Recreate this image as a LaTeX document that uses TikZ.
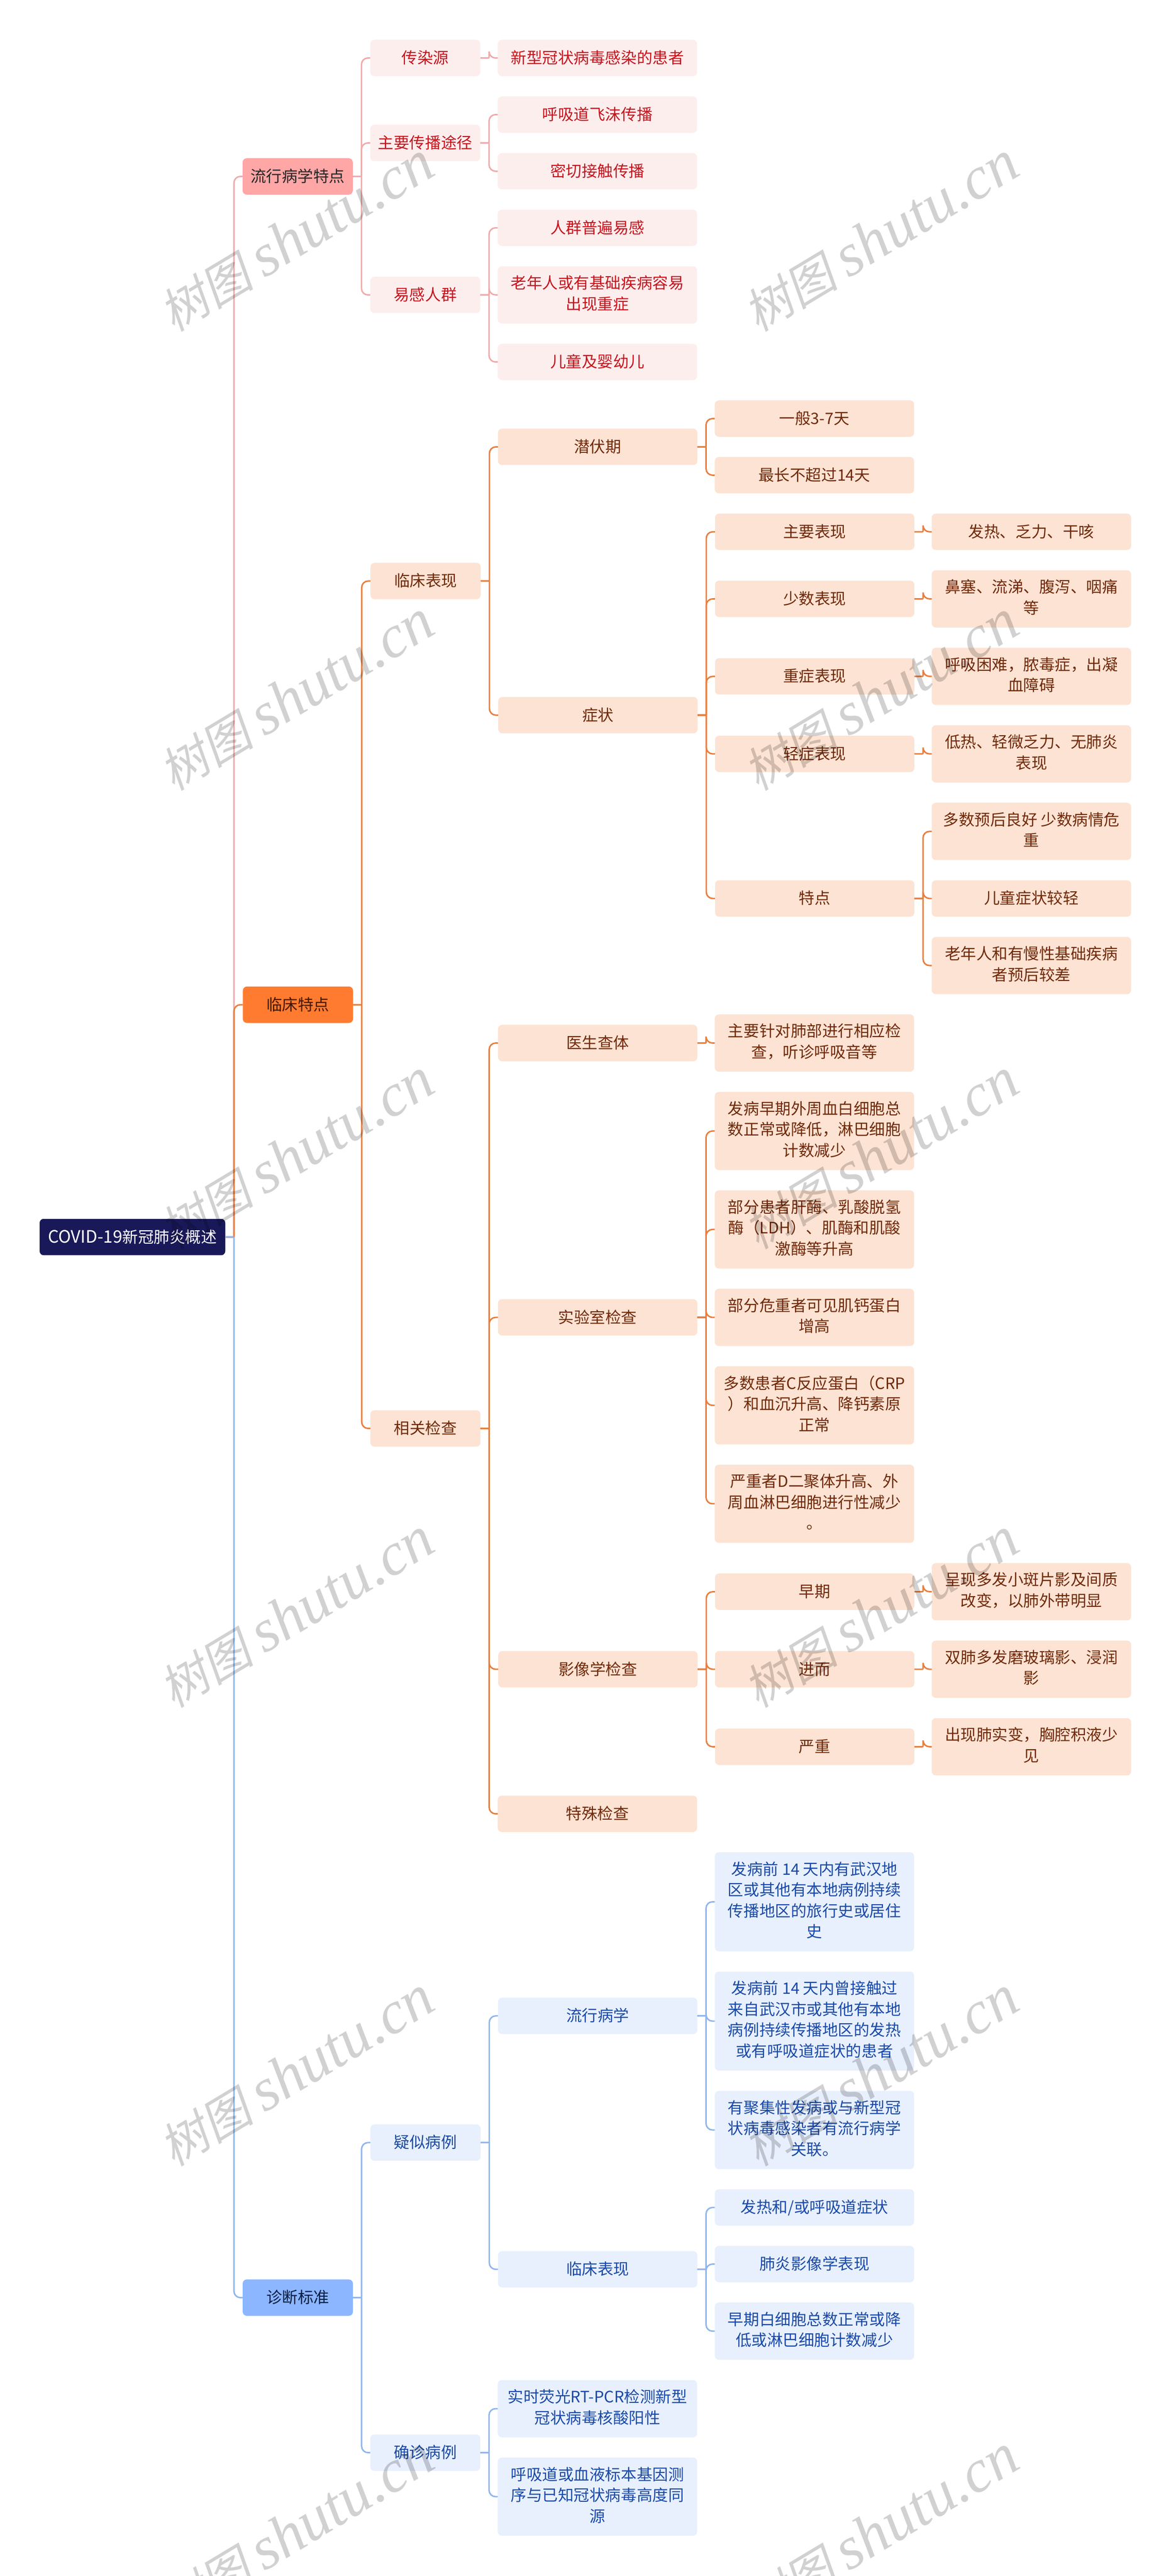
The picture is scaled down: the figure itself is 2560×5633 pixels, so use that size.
\documentclass[tikz,border=0pt]{standalone}
\usepackage{fontspec}
\setmainfont{Noto Sans CJK SC}
\newfontfamily\wmcjk[FakeSlant=0.2]{Noto Sans CJK SC}
\newfontfamily\wmlat{Liberation Serif}
\usetikzlibrary{positioning,calc}
\newcommand{\linestrut}{\rule[-4.8pt]{0pt}{22pt}}
\definecolor{redfill}{HTML}{FDEEEE}
\definecolor{redtext}{HTML}{C8141C}
\definecolor{rededge}{HTML}{F0AAAA}
\definecolor{redmain}{HTML}{FFA6A6}
\definecolor{orgfill}{HTML}{FDE3D3}
\definecolor{orgtext}{HTML}{70290A}
\definecolor{orgedge}{HTML}{E87E3E}
\definecolor{orgmain}{HTML}{FF7B30}
\definecolor{blufill}{HTML}{E8F0FD}
\definecolor{blutext}{HTML}{1A4AA8}
\definecolor{bluedge}{HTML}{90B5EE}
\definecolor{blumain}{HTML}{8CB6FF}
\definecolor{rootfill}{HTML}{19195A}

\begin{document}
\begin{tikzpicture}[x=0.5pt, y=-0.5pt, node distance=22.1pt and 19pt, every node/.style={font=\fontsize{17.2pt}{22.85pt}\selectfont}]

\tikzstyle{box} = [rectangle, rounded corners=4.5pt, inner sep=0pt, outer sep=0pt, align=center, minimum height=39.8pt, execute at begin node=\linestrut, execute at end node=\linestrut]
\tikzstyle{short} = [minimum width=120.5pt]
\tikzstyle{wide} = [minimum width=218pt]
\tikzstyle{twol} = [minimum height=62.65pt]
\tikzstyle{threel} = [minimum height=85.5pt]
\tikzstyle{fourl} = [minimum height=108.35pt]
\tikzstyle{redbox} = [box, fill=redfill, text=redtext]
\tikzstyle{orgbox} = [box, fill=orgfill, text=orgtext]
\tikzstyle{blubox} = [box, fill=blufill, text=blutext]
\tikzstyle{redline} = [line width=1.6pt, draw=rededge]
\tikzstyle{orgline} = [line width=1.6pt, draw=orgedge]
\tikzstyle{bluline} = [line width=1.6pt, draw=bluedge]
\tikzstyle{wmark} = [rotate=31, text=black, opacity=0.18, font=\fontsize{52pt}{60pt}\selectfont]

\useasboundingbox (0,0) rectangle (2560,5633);
\coordinate (cola) at (1306.5,0);
\coordinate (colb) at (1781,0);
\coordinate (colc) at (2255.5,0);

% Red leaves
\node[redbox, wide, anchor=north] (source) at (cola |- 0,87) {新型冠状病毒感染的患者};
\node[redbox, wide, below=of cola |- source.south] (droplet) {呼吸道飞沫传播};
\node[redbox, wide, below=of cola |- droplet.south] (contact) {密切接触传播};
\node[redbox, wide, below=of cola |- contact.south] (general) {人群普遍易感};
\node[redbox, wide, twol, below=of cola |- general.south] (elder) {老年人或有基础疾病容易\\出现重症};
\node[redbox, wide, below=of cola |- elder.south] (infant) {儿童及婴幼儿};

% Orange leaves
\node[orgbox, wide, below=of colb |- infant.south] (usual) {一般3-7天};
\node[orgbox, wide, below=of colb |- usual.south] (longest) {最长不超过14天};
\node[orgbox, wide, below=of colc |- longest.south] (fever) {发热、乏力、干咳};
\node[orgbox, wide, twol, below=of colc |- fever.south] (nose) {鼻塞、流涕、腹泻、咽痛\\等};
\node[orgbox, wide, twol, below=of colc |- nose.south] (dyspnea) {呼吸困难，脓毒症，出凝\\血障碍};
\node[orgbox, wide, twol, below=of colc |- dyspnea.south] (lowfever) {低热、轻微乏力、无肺炎\\表现};
\node[orgbox, wide, twol, below=of colc |- lowfever.south] (prognosis) {多数预后良好 少数病情危\\重};
\node[orgbox, wide, below=of colc |- prognosis.south] (child) {儿童症状较轻};
\node[orgbox, wide, twol, below=of colc |- child.south] (chronic) {老年人和有慢性基础疾病\\者预后较差};
\node[orgbox, wide, twol, below=of colb |- chronic.south] (lung) {主要针对肺部进行相应检\\查，听诊呼吸音等};
\node[orgbox, wide, threel, below=of colb |- lung.south] (wbc) {发病早期外周血白细胞总\\数正常或降低，淋巴细胞\\计数减少};
\node[orgbox, wide, threel, below=of colb |- wbc.south] (ldh) {部分患者肝酶、乳酸脱氢\\酶（LDH）、肌酶和肌酸\\激酶等升高};
\node[orgbox, wide, twol, below=of colb |- ldh.south] (troponin) {部分危重者可见肌钙蛋白\\增高};
\node[orgbox, wide, threel, below=of colb |- troponin.south] (crp) {多数患者C反应蛋白（CRP\\）和血沉升高、降钙素原\\正常};
\node[orgbox, wide, threel, below=of colb |- crp.south] (dimer) {严重者D二聚体升高、外\\周血淋巴细胞进行性减少\\。};
\node[orgbox, wide, twol, below=of colc |- dimer.south] (patchy) {呈现多发小斑片影及间质\\改变，以肺外带明显};
\node[orgbox, wide, twol, below=of colc |- patchy.south] (glass) {双肺多发磨玻璃影、浸润\\影};
\node[orgbox, wide, twol, below=of colc |- glass.south] (consol) {出现肺实变，胸腔积液少\\见};
\node[orgbox, wide, below=of cola |- consol.south] (special) {特殊检查};

% Blue leaves
\node[blubox, wide, fourl, below=of colb |- special.south] (travel) {发病前 14 天内有武汉地\\区或其他有本地病例持续\\传播地区的旅行史或居住\\史};
\node[blubox, wide, fourl, below=of colb |- travel.south] (exposure) {发病前 14 天内曾接触过\\来自武汉市或其他有本地\\病例持续传播地区的发热\\或有呼吸道症状的患者};
\node[blubox, wide, threel, below=of colb |- exposure.south] (cluster) {有聚集性发病或与新型冠\\状病毒感染者有流行病学\\关联。};
\node[blubox, wide, below=of colb |- cluster.south] (symptom) {发热和/或呼吸道症状};
\node[blubox, wide, below=of colb |- symptom.south] (imaging) {肺炎影像学表现};
\node[blubox, wide, twol, below=of colb |- imaging.south] (count) {早期白细胞总数正常或降\\低或淋巴细胞计数减少};
\node[blubox, wide, twol, below=of cola |- count.south] (pcr) {实时荧光RT-PCR检测新型\\冠状病毒核酸阳性};
\node[blubox, wide, threel, below=of cola |- pcr.south] (gene) {呼吸道或血液标本基因测\\序与已知冠状病毒高度同\\源};

% Parents, from right to left
\node[redbox, short, left=of source] (infect) {传染源};
\node[redbox, short, left=of $(droplet.west)!0.5!(contact.west)$] (route) {主要传播途径};
\node[redbox, short, left=of $(general.west)!0.5!(infant.west)$] (suscept) {易感人群};
\node[box, short, fill=redmain, text=black!85, left=of $(infect.west)!0.5!(suscept.west)$] (epid) {流行病学特点};

\node[orgbox, wide, left=of fever] (mainsym) {主要表现};
\node[orgbox, wide, left=of nose] (fewsym) {少数表现};
\node[orgbox, wide, left=of dyspnea] (severe) {重症表现};
\node[orgbox, wide, left=of lowfever] (mild) {轻症表现};
\node[orgbox, wide, left=of $(prognosis.west)!0.5!(chronic.west)$] (feature) {特点};
\node[orgbox, wide, left=of $(usual.west)!0.5!(longest.west)$] (incub) {潜伏期};
\node[orgbox, wide, left=of $(mainsym.west)!0.5!(feature.west)$] (symp) {症状};
\node[orgbox, short, left=of $(incub.west)!0.5!(symp.west)$] (manif) {临床表现};
\node[orgbox, wide, left=of lung] (physical) {医生查体};
\node[orgbox, wide, left=of $(wbc.west)!0.5!(dimer.west)$] (lab) {实验室检查};
\node[orgbox, wide, left=of patchy] (early) {早期};
\node[orgbox, wide, left=of glass] (later) {进而};
\node[orgbox, wide, left=of consol] (serious) {严重};
\node[orgbox, wide, left=of $(early.west)!0.5!(serious.west)$] (radio) {影像学检查};
\node[orgbox, short, left=of $(physical.west)!0.5!(special.west)$] (exams) {相关检查};
\node[box, short, fill=orgmain, text=orgtext!60!black, left=of $(manif.west)!0.5!(exams.west)$] (clin) {临床特点};

\node[blubox, wide, left=of $(travel.west)!0.5!(cluster.west)$] (epihist) {流行病学};
\node[blubox, wide, left=of $(symptom.west)!0.5!(count.west)$] (clinical) {临床表现};
\node[blubox, short, left=of $(epihist.west)!0.5!(clinical.west)$] (suspect) {疑似病例};
\node[blubox, short, left=of $(pcr.west)!0.5!(gene.west)$] (confirm) {确诊病例};
\node[box, short, fill=blumain, text=blutext!40!black, left=of $(suspect.west)!0.5!(confirm.west)$] (diag) {诊断标准};

\node[box, minimum width=203pt, fill=rootfill, text=white, left=of $(epid.west)!0.5!(diag.west)$] (root) {{\fontsize{18.7pt}{22.85pt}\selectfont COVID-19}新冠肺炎概述};

% Connectors
\foreach \p/\c in {root/epid, epid/infect, epid/route, epid/suscept, infect/source, route/droplet, route/contact, suscept/general, suscept/elder, suscept/infant}
  \draw[redline] (\p.east) -- ++(19,0) coordinate (j) [rounded corners=7pt] (j) |- (\c.west);
\foreach \p/\c in {root/clin, clin/manif, clin/exams, manif/incub, manif/symp, incub/usual, incub/longest, symp/mainsym, symp/fewsym, symp/severe, symp/mild, symp/feature, mainsym/fever, fewsym/nose, severe/dyspnea, mild/lowfever, feature/prognosis, feature/child, feature/chronic, exams/physical, exams/lab, exams/radio, exams/special, physical/lung, lab/wbc, lab/ldh, lab/troponin, lab/crp, lab/dimer, radio/early, radio/later, radio/serious, early/patchy, later/glass, serious/consol}
  \draw[orgline] (\p.east) -- ++(19,0) coordinate (j) [rounded corners=7pt] (j) |- (\c.west);
\foreach \p/\c in {root/diag, diag/suspect, diag/confirm, suspect/epihist, suspect/clinical, epihist/travel, epihist/exposure, epihist/cluster, clinical/symptom, clinical/imaging, clinical/count, confirm/pcr, confirm/gene}
  \draw[bluline] (\p.east) -- ++(19,0) coordinate (j) [rounded corners=7pt] (j) |- (\c.west);

% Watermark
\foreach \x in {648,1926}
  \foreach \y in {518,1521,2524,3527,4530,5533}
    \node[wmark] (wm\x\y) at (\x,\y) {{\wmcjk 树图} {\wmlat\itshape\fontsize{66pt}{66pt}\selectfont shutu.cn}};

\end{tikzpicture}
\end{document}
